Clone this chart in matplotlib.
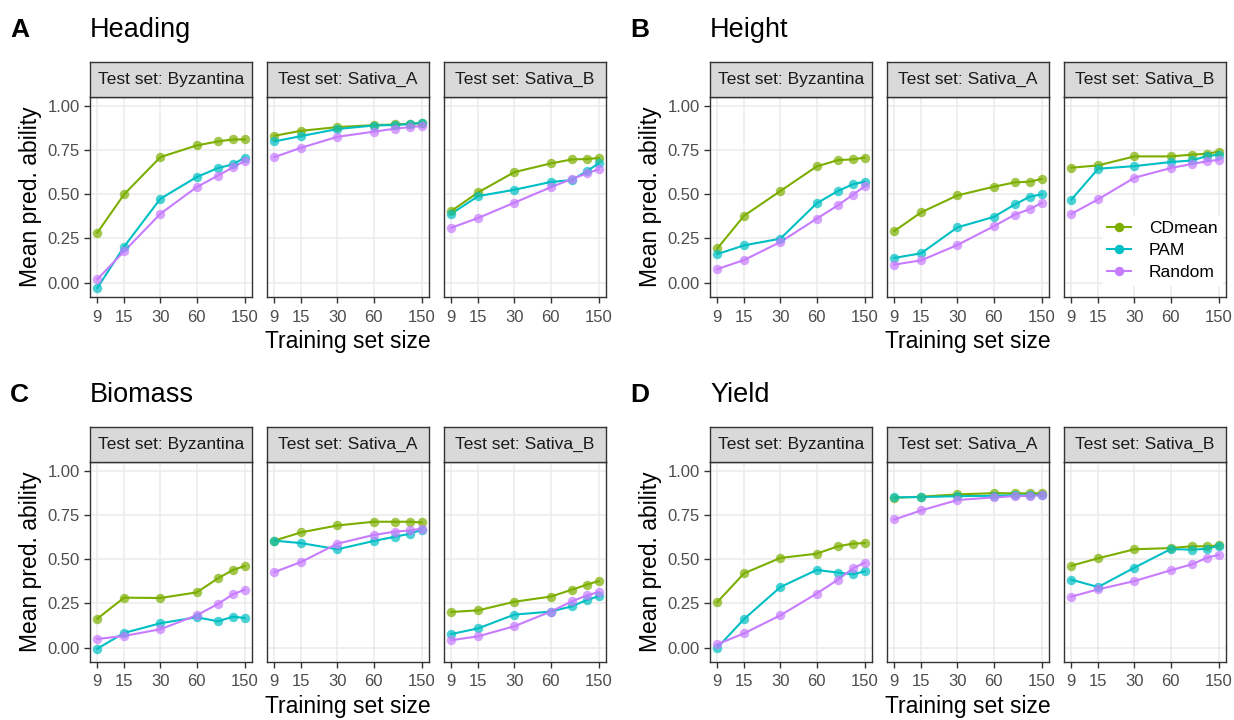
import numpy as np
import matplotlib
matplotlib.use("Agg")
import matplotlib.pyplot as plt
from matplotlib.ticker import FixedLocator, NullLocator

plt.rcParams['font.family'] = ['Liberation Sans', 'DejaVu Sans']

# training set sizes
sizes = [9, 15, 30, 60, 90, 120, 150]
methods = ["CDmean", "PAM", "Random"]
colors = {"CDmean": "#7CAE00", "PAM": "#00BFC4", "Random": "#C77CFF"}
test_sets = ["Byzantina", "Sativa_A", "Sativa_B"]

# Heading
heading_byzantina = {
    "CDmean": [0.283, 0.50, 0.711, 0.777, 0.80, 0.811, 0.811],
    "PAM":    [-0.03, 0.204, 0.475, 0.598, 0.649, 0.67, 0.708],
    "Random": [0.019, 0.177, 0.39, 0.541, 0.606, 0.653, 0.689],
}
heading_sativa_a = {
    "CDmean": [0.832, 0.86, 0.881, 0.892, 0.896, 0.90, 0.902],
    "PAM":    [0.80, 0.83, 0.87, 0.89, 0.893, 0.898, 0.906],
    "Random": [0.711, 0.764, 0.826, 0.855, 0.872, 0.881, 0.887],
}
heading_sativa_b = {
    "CDmean": [0.406, 0.511, 0.626, 0.675, 0.698, 0.70, 0.706],
    "PAM":    [0.39, 0.49, 0.526, 0.57, 0.581, 0.632, 0.675],
    "Random": [0.311, 0.366, 0.453, 0.54, 0.587, 0.619, 0.642],
}

# Height
height_byzantina = {
    "CDmean": [0.194, 0.379, 0.519, 0.658, 0.694, 0.698, 0.708],
    "PAM":    [0.162, 0.211, 0.249, 0.449, 0.519, 0.557, 0.572],
    "Random": [0.077, 0.128, 0.23, 0.362, 0.438, 0.498, 0.545],
}
height_sativa_a = {
    "CDmean": [0.292, 0.398, 0.494, 0.543, 0.568, 0.572, 0.587],
    "PAM":    [0.14, 0.166, 0.313, 0.372, 0.443, 0.487, 0.50],
    "Random": [0.102, 0.126, 0.213, 0.319, 0.385, 0.417, 0.451],
}
height_sativa_b = {
    "CDmean": [0.651, 0.664, 0.715, 0.715, 0.725, 0.73, 0.742],
    "PAM":    [0.47, 0.645, 0.66, 0.683, 0.692, 0.717, 0.725],
    "Random": [0.389, 0.472, 0.594, 0.649, 0.672, 0.687, 0.696],
}

# Biomass
biomass_byzantina = {
    "CDmean": [0.164, 0.283, 0.281, 0.313, 0.392, 0.44, 0.462],
    "PAM":    [-0.006, 0.083, 0.138, 0.172, 0.149, 0.175, 0.168],
    "Random": [0.049, 0.066, 0.104, 0.183, 0.247, 0.302, 0.328],
}
biomass_sativa_a = {
    "CDmean": [0.606, 0.653, 0.692, 0.713, 0.713, 0.713, 0.709],
    "PAM":    [0.606, 0.592, 0.557, 0.604, 0.628, 0.645, 0.668],
    "Random": [0.428, 0.485, 0.589, 0.638, 0.657, 0.664, 0.674],
}
biomass_sativa_b = {
    "CDmean": [0.202, 0.211, 0.26, 0.289, 0.328, 0.357, 0.377],
    "PAM":    [0.077, 0.109, 0.187, 0.204, 0.234, 0.27, 0.291],
    "Random": [0.042, 0.064, 0.121, 0.204, 0.262, 0.296, 0.315],
}

# Yield
yield_byzantina = {
    "CDmean": [0.258, 0.421, 0.508, 0.532, 0.574, 0.589, 0.592],
    "PAM":    [0.0, 0.162, 0.343, 0.44, 0.425, 0.415, 0.432],
    "Random": [0.019, 0.081, 0.183, 0.306, 0.385, 0.449, 0.481],
}
yield_sativa_a = {
    "CDmean": [0.849, 0.855, 0.868, 0.875, 0.874, 0.874, 0.874],
    "PAM":    [0.851, 0.853, 0.858, 0.86, 0.864, 0.862, 0.866],
    "Random": [0.726, 0.777, 0.836, 0.851, 0.858, 0.86, 0.862],
}
yield_sativa_b = {
    "CDmean": [0.464, 0.506, 0.557, 0.564, 0.574, 0.574, 0.579],
    "PAM":    [0.385, 0.343, 0.453, 0.558, 0.555, 0.56, 0.577],
    "Random": [0.289, 0.33, 0.377, 0.438, 0.472, 0.509, 0.526],
}

xticks = [9, 15, 30, 60, 150]
yticks = [0.0, 0.25, 0.5, 0.75, 1.0]

W, H = 1234, 720
fig = plt.figure(figsize=(W / 100, H / 100), dpi=100)


def px_axes(x0, y0, x1, y1):
    return fig.add_axes([x0 / W, 1 - y1 / H, (x1 - x0) / W, (y1 - y0) / H])


# log-scale x limits with 5% expansion
lx0, lx1 = np.log(9), np.log(150)
pad = 0.05 * (lx1 - lx0)
xlim = (np.exp(lx0 - pad), np.exp(lx1 + pad))
ylim = (-0.03 - 0.0515, 1.0515)

facet_cols = {"left": [(90, 252), (267, 429), (444, 606)],
              "right": [(710, 872), (887, 1049), (1064, 1226)]}
rows = {"top": (62, 97, 297), "bottom": (427, 462, 662)}

panels = [
    ("A", "Heading", "left", "top",
     [heading_byzantina, heading_sativa_a, heading_sativa_b]),
    ("B", "Height", "right", "top",
     [height_byzantina, height_sativa_a, height_sativa_b]),
    ("C", "Biomass", "left", "bottom",
     [biomass_byzantina, biomass_sativa_a, biomass_sativa_b]),
    ("D", "Yield", "right", "bottom",
     [yield_byzantina, yield_sativa_a, yield_sativa_b]),
]

for letter, trait, col, row, facets in panels:
    strip_top, panel_top, panel_bot = rows[row]
    cols = facet_cols[col]
    for i, (x0, x1) in enumerate(cols):
        ax = px_axes(x0, panel_top, x1, panel_bot)
        ax.set_xscale("log")
        ax.set_xlim(*xlim)
        ax.set_ylim(*ylim)
        ax.xaxis.set_major_locator(FixedLocator(xticks))
        ax.xaxis.set_minor_locator(NullLocator())
        ax.set_xticklabels([str(t) for t in xticks])
        ax.set_yticks(yticks)
        ax.grid(True, color="#EBEBEB", linewidth=1.1)
        ax.set_axisbelow(True)
        for s in ax.spines.values():
            s.set_color("#333333")
            s.set_linewidth(1.0)
        ax.tick_params(axis="both", colors="#333333", labelcolor="#4D4D4D",
                       labelsize=12, length=4, width=1.0, pad=3.5)
        ax.tick_params(axis="x", pad=5)
        if i == 0:
            ax.set_yticklabels([f"{t:.2f}" for t in yticks])
            ax.set_ylabel("Mean pred. ability", fontsize=16.5, labelpad=4)
        else:
            ax.tick_params(axis="y", left=False, labelleft=False)
        if i == 1:
            ax.set_xlabel("Training set size", fontsize=16.5, labelpad=4)

        data = facets[i]
        for m in methods:
            ax.plot(sizes, data[m], color=colors[m], linewidth=1.5, zorder=2)
            ax.plot(sizes, data[m], linestyle="none", marker="o", markersize=6.8,
                    color=colors[m], alpha=0.7, markeredgewidth=0, zorder=3,
                    label=m)

        if letter == "B" and i == 2:
            handles = [plt.Line2D([], [], color=colors[m], linewidth=1.5,
                                  marker="o", markersize=6.8,
                                  markerfacecolor=colors[m], markeredgewidth=0)
                       for m in methods]
            leg = ax.legend(handles, methods, loc="lower right",
                            bbox_to_anchor=(1.0, 0.04), fontsize=12.5,
                            frameon=True, facecolor="white", edgecolor="none",
                            framealpha=1, handlelength=1.4, handletextpad=1.0,
                            labelspacing=0.4, borderpad=0.3, borderaxespad=0.2)

        # strip
        sax = px_axes(x0, strip_top, x1, panel_top)
        sax.set_facecolor("#D9D9D9")
        sax.set_xticks([])
        sax.set_yticks([])
        for s in sax.spines.values():
            s.set_color("#333333")
            s.set_linewidth(1.0)
        sax.text(0.5, 0.5, "Test set: " + test_sets[i], ha="center", va="center",
                 fontsize=12.5, color="#1A1A1A", transform=sax.transAxes)

    # panel tag and title
    tx = 10 if col == "left" else 630
    ty = 30 if row == "top" else 395
    fig.text(tx / W, 1 - ty / H, letter, fontsize=19, fontweight="bold",
             ha="left", va="center")
    fig.text(cols[0][0] / W, 1 - ty / H, trait, fontsize=19.5,
             ha="left", va="center")

fig.savefig("out.png", dpi=100, facecolor="white")
